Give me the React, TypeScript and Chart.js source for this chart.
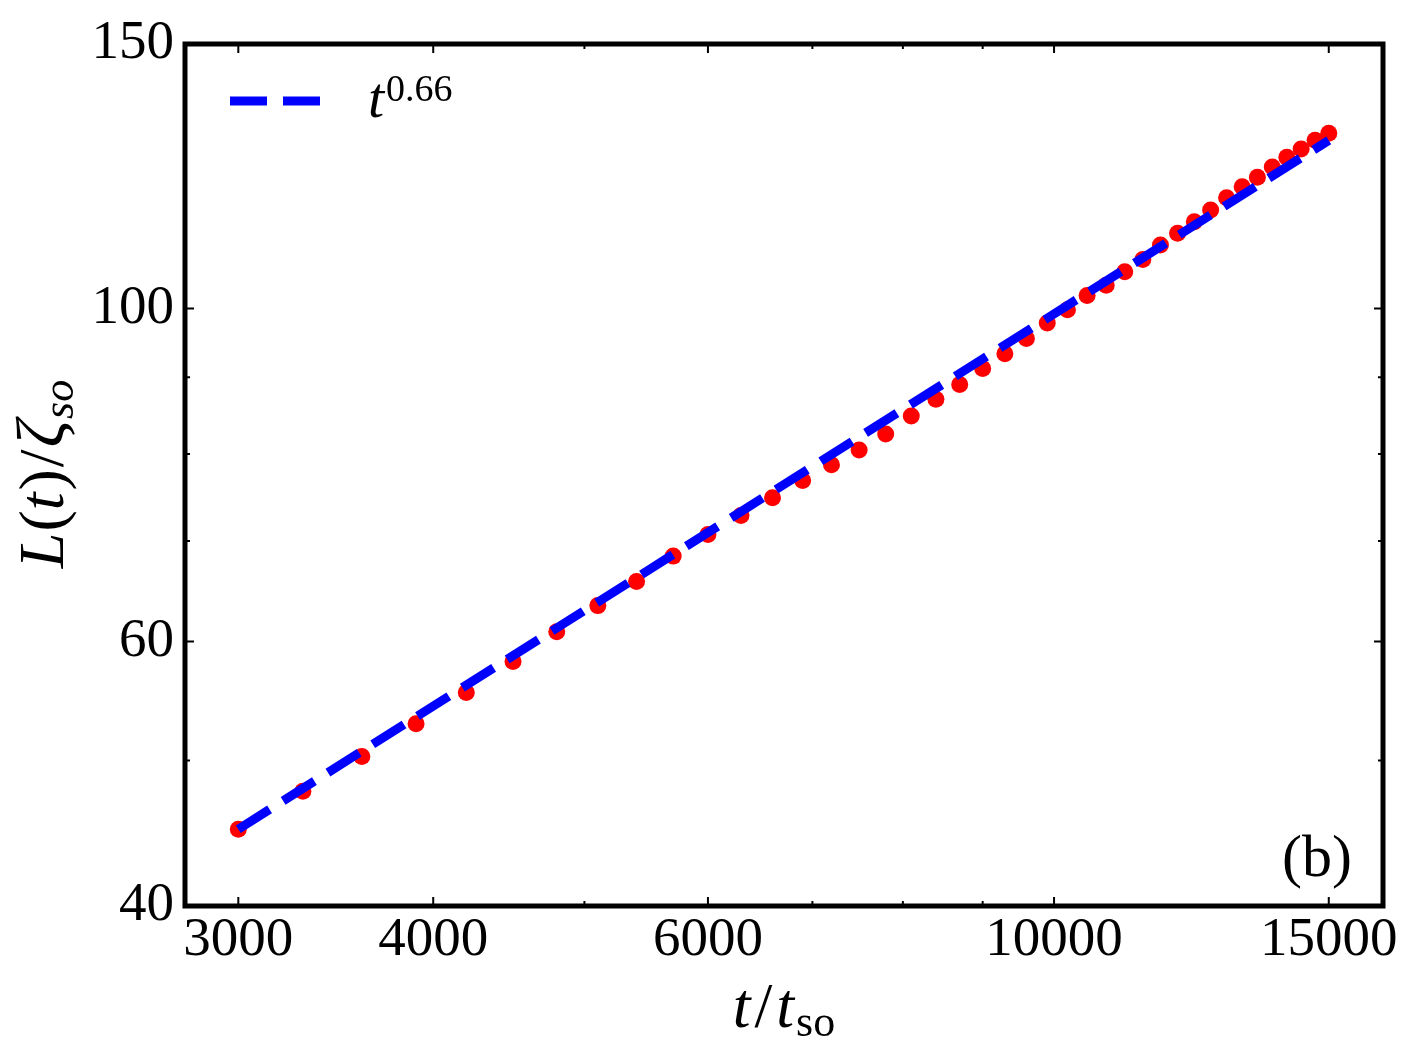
import { useEffect, useRef } from "react"
import { Chart, registerables } from "chart.js"

Chart.register(...registerables)

// t / t_so sampled every 300
const times = [
  3000, 3300, 3600, 3900, 4200, 4500, 4800, 5100, 5400, 5700, 6000, 6300, 6600, 6900,
  7200, 7500, 7800, 8100, 8400, 8700, 9000, 9300, 9600, 9900, 10200, 10500, 10800,
  11100, 11400, 11700, 12000, 12300, 12600, 12900, 13200, 13500, 13800, 14100, 14400,
  14700, 15000,
]
// L(t) / zeta_so
const lengths = [
  45.0, 47.7, 50.3, 52.9, 55.5, 58.2, 60.9, 63.4, 65.8, 68.4, 70.7, 72.8, 74.8, 76.8,
  78.7, 80.5, 82.5, 84.8, 87.0, 89.0, 91.2, 93.3, 95.5, 97.8, 99.8, 102.0, 103.6,
  105.8, 107.8, 110.2, 112.2, 114.2, 116.3, 118.5, 120.5, 122.3, 124.2, 126.1, 127.7,
  129.4, 130.8,
]
// t^0.66 guide line (end points)
const fitTimes = [3000, 15000]
const fitLengths = [45.0, 129.4]

const xMajorTicks = [3000, 4000, 6000, 10000, 15000]
const xMinorTicks = [5000, 7000, 8000, 9000]
const yMajorTicks = [40, 60, 100, 150]
const yMinorTicks = [50, 70, 80, 90]

const SERIF = "'Liberation Serif', 'Times New Roman', serif"

type Run = { text: string; font: string; dy?: number; gap?: number }

function runsWidth(ctx: CanvasRenderingContext2D, runs: Run[]) {
  let w = 0
  for (const r of runs) {
    ctx.font = r.font
    w += ctx.measureText(r.text).width + (r.gap ?? 0)
  }
  return w
}

function drawRuns(ctx: CanvasRenderingContext2D, x: number, y: number, runs: Run[]) {
  let cx = x
  for (const r of runs) {
    ctx.font = r.font
    ctx.fillText(r.text, cx, y + (r.dy ?? 0))
    cx += ctx.measureText(r.text).width + (r.gap ?? 0)
  }
}

const framePlugin = {
  id: "frame",
  afterDraw(chart: any) {
    const { ctx, chartArea: a, scales } = chart
    ctx.save()
    ctx.strokeStyle = "#000"
    ctx.lineCap = "butt"
    ctx.lineWidth = 2
    const xTicks = (vals: number[], len: number) => {
      for (const v of vals) {
        const px = scales.x.getPixelForValue(v)
        ctx.beginPath()
        ctx.moveTo(px, a.bottom)
        ctx.lineTo(px, a.bottom - len)
        ctx.moveTo(px, a.top)
        ctx.lineTo(px, a.top + len)
        ctx.stroke()
      }
    }
    const yTicks = (vals: number[], len: number) => {
      for (const v of vals) {
        const py = scales.y.getPixelForValue(v)
        ctx.beginPath()
        ctx.moveTo(a.left, py)
        ctx.lineTo(a.left + len, py)
        ctx.moveTo(a.right, py)
        ctx.lineTo(a.right - len, py)
        ctx.stroke()
      }
    }
    xTicks(xMajorTicks, 9)
    xTicks(xMinorTicks, 5)
    yTicks(yMajorTicks, 9)
    yTicks(yMinorTicks, 5)

    ctx.lineWidth = 5
    ctx.strokeRect(a.left, a.top, a.right - a.left, a.bottom - a.top)

    ctx.fillStyle = "#000"
    ctx.textBaseline = "alphabetic"
    ctx.textAlign = "left"

    // x title: t / t_so
    const xRuns: Run[] = [
      { text: "t", font: `italic 64px ${SERIF}`, gap: 4 },
      { text: "/", font: `64px ${SERIF}`, gap: 4 },
      { text: "t", font: `italic 64px ${SERIF}`, gap: 2 },
      { text: "so", font: `44px ${SERIF}`, dy: 9 },
    ]
    const xw = runsWidth(ctx, xRuns)
    drawRuns(ctx, (a.left + a.right) / 2 - xw / 2, 1027, xRuns)

    // y title: L(t) / zeta_so
    const yRuns: Run[] = [
      { text: "L", font: `italic 64px ${SERIF}`, gap: 1 },
      { text: "(", font: `64px ${SERIF}` },
      { text: "t", font: `italic 64px ${SERIF}`, gap: 2 },
      { text: ")", font: `64px ${SERIF}`, gap: 2 },
      { text: "/", font: `64px ${SERIF}`, gap: 2 },
      { text: "ζ", font: `italic 68px ${SERIF}`, gap: 1 },
      { text: "so", font: `italic 44px ${SERIF}`, dy: 10 },
    ]
    const yw = runsWidth(ctx, yRuns)
    ctx.save()
    ctx.translate(63, 474)
    ctx.rotate(-Math.PI / 2)
    drawRuns(ctx, -yw / 2, 0, yRuns)
    ctx.restore()

    // panel tag
    ctx.font = `60px ${SERIF}`
    ctx.textAlign = "right"
    ctx.fillText("(b)", a.right - 31, 876)

    // legend
    ctx.textAlign = "left"
    ctx.strokeStyle = "#0000ff"
    ctx.lineWidth = 9
    ctx.setLineDash([37, 16])
    ctx.beginPath()
    ctx.moveTo(230, 101)
    ctx.lineTo(320, 101)
    ctx.stroke()
    ctx.setLineDash([])
    drawRuns(ctx, 368, 117, [
      { text: "t", font: `italic 58px ${SERIF}`, gap: 2 },
      { text: "0.66", font: `38px ${SERIF}`, dy: -16 },
    ])
    ctx.restore()
  },
}

export default function App() {
  const chartRef = useRef<HTMLCanvasElement>(null)
  const chartInstance = useRef<Chart | null>(null)

  useEffect(() => {
    if (!chartRef.current) return
    const ctx = chartRef.current.getContext("2d")
    if (!ctx) return

    if (chartInstance.current) {
      chartInstance.current.destroy()
    }

    chartInstance.current = new Chart(ctx, {
      type: "scatter",
      data: {
        datasets: [
          {
            label: "t^0.66",
            data: fitTimes.map((t, i) => ({ x: t, y: fitLengths[i] })),
            showLine: true,
            borderColor: "#0000ff",
            borderWidth: 9,
            borderDash: [37, 16],
            borderCapStyle: "butt",
            pointRadius: 0,
            fill: false,
          },
          {
            label: "data",
            data: times.map((t, i) => ({ x: t, y: lengths[i] })),
            showLine: false,
            pointRadius: 8.5,
            pointBackgroundColor: "#ff0000",
            pointBorderWidth: 0,
            pointBorderColor: "#ff0000",
          },
        ],
      },
      options: {
        responsive: true,
        maintainAspectRatio: false,
        animation: false,
        layout: {
          padding: { left: 0, top: 39, right: 36, bottom: 0 },
        },
        plugins: {
          legend: { display: false },
          tooltip: { enabled: false },
        },
        scales: {
          x: {
            type: "logarithmic",
            min: 2773,
            max: 16250,
            bounds: "data",
            grid: { display: false, drawTicks: false },
            border: { display: false },
            afterBuildTicks: (scale: any) => {
              scale.ticks = xMajorTicks.map((v) => ({ value: v }))
            },
            afterFit: (scale: any) => {
              scale.height = 156
            },
            ticks: {
              autoSkip: false,
              maxRotation: 0,
              padding: 2,
              color: "#000",
              font: { family: SERIF, size: 55, lineHeight: 1.2 },
              callback: (value: any) => String(value),
            },
          },
          y: {
            type: "logarithmic",
            min: 40,
            max: 150,
            bounds: "data",
            grid: { display: false, drawTicks: false },
            border: { display: false },
            afterBuildTicks: (scale: any) => {
              scale.ticks = yMajorTicks.map((v) => ({ value: v }))
            },
            afterFit: (scale: any) => {
              scale.width = 185
            },
            ticks: {
              autoSkip: false,
              padding: 11,
              color: "#000",
              font: { family: SERIF, size: 55, lineHeight: 1.2 },
              callback: (value: any) => String(value),
            },
          },
        },
      },
      plugins: [framePlugin],
    })

    return () => {
      if (chartInstance.current) {
        chartInstance.current.destroy()
        chartInstance.current = null
      }
    }
  }, [])

  return (
    <div style={{ position: "absolute", left: 0, top: 0, width: 1419, height: 1062, background: "#fff" }}>
      <canvas ref={chartRef} />
    </div>
  )
}
